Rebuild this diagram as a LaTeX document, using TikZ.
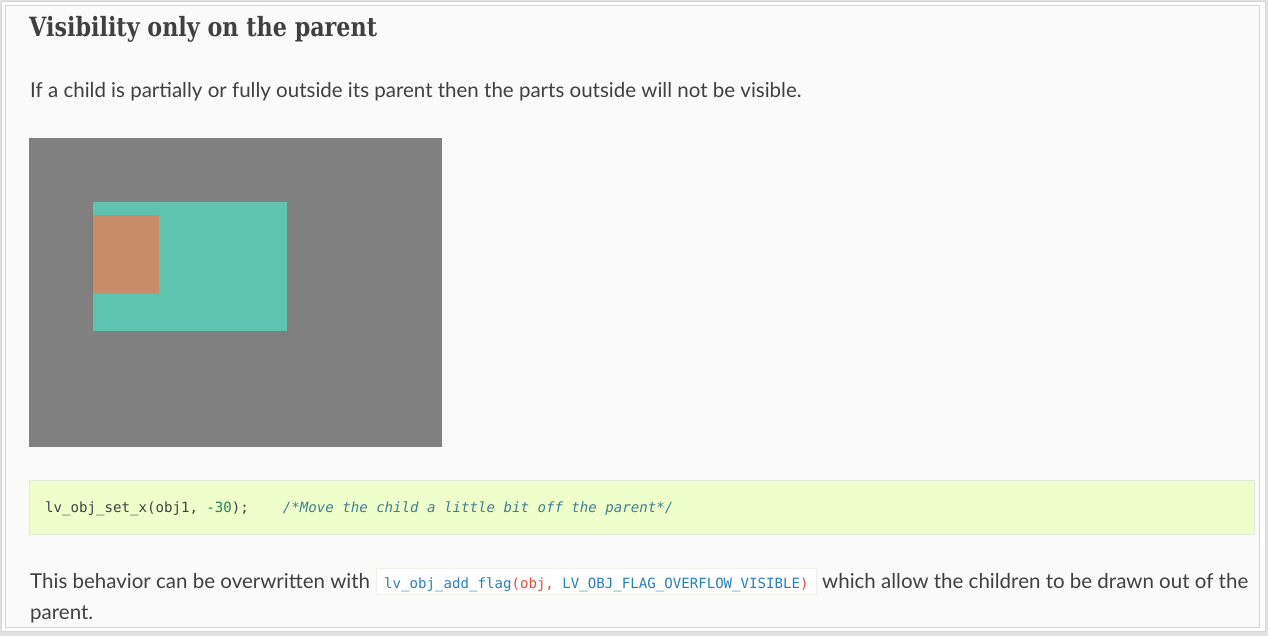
\documentclass[tikz,border=0pt]{standalone}
\usepackage{fontspec}
\setmainfont{Lato}
\setmonofont{DejaVu Sans Mono}
\newfontfamily\slabfont[FakeStretch=0.84]{DejaVu Serif}
\usetikzlibrary{positioning}
\definecolor{bodytext}{HTML}{404040}
\definecolor{panelline}{HTML}{D6D6D6}
\definecolor{shadowgray}{HTML}{E2E2E2}
\definecolor{parentgray}{HTML}{808080}
\definecolor{childteal}{HTML}{5FC4AF}
\definecolor{suborange}{HTML}{C78C6A}
\definecolor{codegreen}{HTML}{EEFFCC}
\definecolor{codeline}{HTML}{E1E8D8}
\definecolor{commentteal}{HTML}{408090}
\definecolor{numbergreen}{HTML}{208050}
\definecolor{flagblue}{HTML}{2980B9}
\definecolor{flagred}{HTML}{E74C3C}
\tikzset{
  bodyline/.style={anchor=base west,inner sep=0,text=bodytext,font=\fontsize{20.5}{24}\selectfont},
  objbox/.style={draw=none,inner sep=0,outer sep=0},
}

\begin{document}
\begin{tikzpicture}[x=1pt,y=-1pt]
\useasboundingbox (0,0) rectangle (1268,636);
% page frame with its shadow
\fill[shadowgray] (0,0) rectangle (1268,636);
\filldraw[fill=white,draw=panelline] (1,1) rectangle (1265,631);
\filldraw[fill=white!98!black,draw=panelline] (5,5) rectangle (1259,627);

\node[anchor=base west,inner sep=0,text=bodytext,
  font=\slabfont\bfseries\fontsize{26.5}{30}\selectfont] (title) at (29,37)
  {Visibility only on the parent};
\node[bodyline] (intro) at (30,98)
  {If a child is partially or fully outside its parent then the parts outside will not be visible.};

% the objects
\fill[parentgray] (29,138) rectangle (442,447);
\coordinate (parentobj) at (29,138);
\node[objbox,fill=childteal,minimum width=194pt,minimum height=129pt,anchor=north west]
  (childobj) at (93,202) {};
\node[objbox,fill=suborange,minimum width=66pt,minimum height=79pt,anchor=north west]
  (subobj) at (93,215) {};

% code block
\node[draw=codeline,fill=codegreen,minimum width=1225pt,minimum height=54pt,
  anchor=north west,inner sep=0] (codebox) at (29,480) {};
\node[anchor=base west,inner sep=0,text=bodytext,font=\ttfamily\fontsize{14.1}{16}\selectfont]
  (codeline) at (45,512)
  {lv\_obj\_set\_x(obj1, \textcolor{numbergreen}{-30});\ \ \ \ \textcolor{commentteal}{\itshape/*Move the child a little bit off the parent*/}};

% last paragraph
\node[bodyline] (behavior) at (30,588) {This behavior can be overwritten with};
\node[draw=codeline!60!white,fill=white,anchor=west,inner sep=0,
  minimum width=440pt,minimum height=26pt] (flagbox) at (376,581) {};
\node[anchor=base west,inner sep=0,font=\ttfamily\fontsize{14.1}{16}\selectfont,text=flagblue]
  (flagcode) at (384,588)
  {lv\_obj\_add\_flag\textcolor{flagred}{(obj, }LV\_OBJ\_FLAG\_OVERFLOW\_VISIBLE\textcolor{flagred}{)}};
\node[bodyline] (behaviortail) at (822,588) {which allow the children to be drawn out of the};
\node[bodyline] (parentword) at (30,619) {parent.};
\end{tikzpicture}
\end{document}
